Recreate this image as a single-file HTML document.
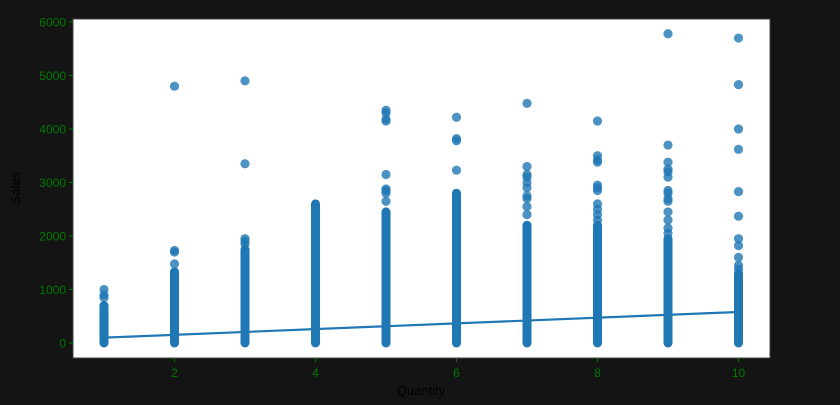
<!DOCTYPE html>
<html><head><meta charset="utf-8"><style>
body{margin:0;background:#141414;width:840px;height:400px;overflow:hidden}
text{font-family:"Liberation Sans",sans-serif}
</style></head><body>
<svg id="chart" width="840" height="400" xmlns="http://www.w3.org/2000/svg">
<rect x="0" y="0" width="840" height="400" fill="#141414"/>
<rect x="73" y="19" width="697" height="339" fill="#ffffff" stroke="#444" stroke-width="1"/>
<g id="marks"></g>
<g id="axes"></g>
<text x="20" y="188" transform="rotate(-90 20 188)" text-anchor="middle" font-size="13" fill="#000">Sales</text>
<text x="421" y="395" text-anchor="middle" font-size="13" fill="#000">Quantity</text>
</svg>
<script>
const quantities=[1,2,3,4,5,6,7,8,9,10];
const denseMax=[700,1330,1750,2600,2450,2800,2200,2200,1950,1300];
const outliers=[
[850,900,1000],
[1480,1700,1730,4800],
[1850,1900,1950,3350,4900],
[],
[2650,2800,2850,2880,3150,4150,4180,4300,4350],
[3230,3780,3820,4220],
[2400,2550,2700,2750,2900,3000,3100,3150,3300,4480],
[2300,2400,2500,2600,2850,2900,2950,3380,3420,3500,4150],
[2050,2150,2300,2450,2650,2700,2800,2850,3100,3200,3250,3380,3700,5780],
[1380,1450,1600,1820,1950,2370,2830,3620,4000,4830,5700]];
const fitStart=[1,100];
const fitEnd=[10,580];
const yTicks=[0,1000,2000,3000,4000,5000,6000];
const xTicks=[2,4,6,8,10];

const NS="http://www.w3.org/2000/svg";
function sx(v){return 104+(v-1)*70.5;}
function sy(v){return 343-v*0.0535;}
const marks=document.getElementById('marks');
const axes=document.getElementById('axes');
function mk(tag,attrs,parent){const e=document.createElementNS(NS,tag);for(const k in attrs)e.setAttribute(k,attrs[k]);parent.appendChild(e);return e;}
quantities.forEach((q,i)=>{
  const c=mk('line',{x1:sx(q),x2:sx(q),y1:sy(0),y2:sy(denseMax[i]),stroke:'#1f77b4','stroke-width':9,'stroke-linecap':'round'},marks);
  
  
  outliers[i].forEach(v=>{
    const p=mk('circle',{cx:sx(q),cy:sy(v),r:4.6,fill:'#1f77b4','fill-opacity':0.8},marks);
    
    
  });
});
const fl=mk('line',{x1:sx(fitStart[0]),y1:sy(fitStart[1]),x2:sx(fitEnd[0]),y2:sy(fitEnd[1]),stroke:'#1f77b4','stroke-width':2.2},marks);


yTicks.forEach(t=>{
  const l=mk('line',{x1:69,x2:73,y1:sy(t),y2:sy(t),stroke:'#007a00'},axes);
  
  
  const tx=mk('text',{x:66,y:sy(t)+4.5,'text-anchor':'end','font-size':12,fill:'#007a00'},axes);
  tx.textContent=t;
  
  
});
xTicks.forEach(t=>{
  const l=mk('line',{x1:sx(t),x2:sx(t),y1:358,y2:362,stroke:'#007a00'},axes);
  
  
  const tx=mk('text',{x:sx(t),y:377,'text-anchor':'middle','font-size':12,fill:'#007a00'},axes);
  tx.textContent=t;
  
  
});
</script>
</body></html>
